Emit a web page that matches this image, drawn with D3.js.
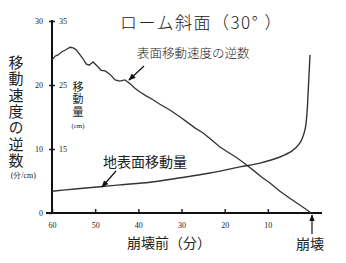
<!DOCTYPE html>
<html>
<head>
<meta charset="utf-8">
<script src="https://cdn.jsdelivr.net/npm/d3@7"></script>
<style>
  body { margin: 0; background: #fff; }
  text { fill: #222; }
</style>
</head>
<body>
<svg id="chart"></svg>
<script>
// DATA
const minutesTicks = [60, 50, 40, 30, 20, 10];
const inverseTicks = [0, 10, 20, 30];
const movementTicks = [15, 25, 35];

// reciprocal of surface velocity (min/cm) vs minutes before collapse
const inverseMinutes = [60, 59.3, 58.6, 57.7, 56.8, 55.8, 55.1, 54.4, 53.5, 52.8, 52.1, 51.4, 50.5, 49.6, 48.6, 47.7, 46.6, 45.4, 44.3, 43.1, 41.9, 40.8, 39.6, 38.2, 36.6, 35.0, 32.7, 30.3, 28.7, 26.9, 25.0, 23.0, 21.1, 19.2, 17.1, 15.3, 13.4, 11.4, 9.5, 7.2, 4.9, 2.6, 1.0, 0];
const inverseValues = [23.9, 24.5, 24.7, 25.2, 25.5, 25.9, 25.8, 25.5, 24.7, 24.1, 23.3, 23.1, 23.6, 23.0, 22.3, 22.2, 21.7, 20.8, 20.6, 20.8, 20.2, 19.5, 18.9, 18.3, 17.7, 17.0, 16.1, 15.0, 14.2, 13.3, 12.5, 11.4, 10.3, 9.5, 8.6, 7.7, 6.7, 5.6, 4.7, 3.4, 2.3, 1.25, 0.5, 0];

// ground surface movement (cm)
const moveMinutes = [60, 54.7, 48.9, 44.2, 37.3, 30.3, 23.4, 16.5, 11.8, 7.2, 4.4, 2.6, 1.4, 0.93, 0.7, 0.46, 0.23];
const moveValues = [8.4, 8.75, 9.1, 9.4, 9.8, 10.5, 11.25, 12.2, 12.8, 13.75, 14.7, 15.9, 18.0, 20.6, 23.4, 26.6, 29.7];

const W = 346, H = 263;
const svg = d3.select("#chart").attr("width", W).attr("height", H);

// SCALES
const x = d3.scaleLinear().domain([60, 0]).range([52, 311]);
const y = d3.scaleLinear().domain([0, 30]).range([213, 21]);
const y2 = d3.scaleLinear().domain([5, 35]).range([213, 21]);

const serif = "'Liberation Serif', 'DejaVu Serif', serif";
const cjk = "'Noto Sans CJK JP', sans-serif";

// AXES
const xAxis = svg.append("g")
  .attr("transform", "translate(0,213)")
  .call(d3.axisBottom(x).tickValues(minutesTicks).tickSizeInner(-4).tickSizeOuter(0).tickPadding(9));
xAxis.select(".domain").remove();
xAxis.selectAll("line").attr("stroke", "#222").attr("stroke-width", 1.5);
xAxis.selectAll("text").style("font-family", serif).style("font-size", "8px").attr("fill", "#444");

svg.append("line")
  .attr("x1", 46).attr("x2", 322).attr("y1", 213).attr("y2", 213)
  .attr("stroke", "#111").attr("stroke-width", 2);

const yAxis = svg.append("g")
  .attr("transform", "translate(52,0)")
  .call(d3.axisLeft(y).tickValues(inverseTicks).tickSize(3).tickPadding(6));
yAxis.select(".domain").remove();
yAxis.selectAll("line").attr("stroke", "#222").attr("stroke-width", 1.5);
yAxis.selectAll("text").style("font-family", serif).style("font-size", "8px").attr("fill", "#444");

const y2Axis = svg.append("g")
  .attr("transform", "translate(52,0)")
  .call(d3.axisRight(y2).tickValues(movementTicks).tickSize(3).tickPadding(4));
y2Axis.select(".domain").remove();
y2Axis.selectAll("line").attr("stroke", "#222").attr("stroke-width", 1.5);
y2Axis.selectAll("text").style("font-family", serif).style("font-size", "8px").attr("fill", "#444");

svg.append("line")
  .attr("x1", 52).attr("x2", 52).attr("y1", 20).attr("y2", 214)
  .attr("stroke", "#111").attr("stroke-width", 2);

// LINES
const inverseData = inverseMinutes.map((m, i) => ({ m: m, v: inverseValues[i] }));
const moveData = moveMinutes.map((m, i) => ({ m: m, v: moveValues[i] }));

svg.append("path")
  .datum(inverseData)
  .attr("fill", "none")
  .attr("stroke", "#333")
  .attr("stroke-width", 1.3)
  .attr("d", d3.line().x(d => x(d.m)).y(d => y(d.v)));

svg.append("path")
  .datum(moveData)
  .attr("fill", "none")
  .attr("stroke", "#333")
  .attr("stroke-width", 1.4)
  .attr("d", d3.line().x(d => x(d.m)).y(d => y2(d.v)).curve(d3.curveCatmullRom));

// ARROWS
svg.append("defs").append("marker")
  .attr("id", "head")
  .attr("viewBox", "0 0 10 10")
  .attr("refX", 9).attr("refY", 5)
  .attr("markerWidth", 6).attr("markerHeight", 6)
  .attr("orient", "auto")
  .append("path").attr("d", "M0,1 L10,5 L0,9 Z").attr("fill", "#111");

function arrow(x1, y1, x2, y2) {
  svg.append("line")
    .attr("x1", x1).attr("y1", y1).attr("x2", x2).attr("y2", y2)
    .attr("stroke", "#111").attr("stroke-width", 1.2)
    .attr("marker-end", "url(#head)");
}
arrow(144, 66, 129, 80);
arrow(116, 171, 102, 187);
arrow(312, 234, 312, 215);

// TEXT
svg.append("text")
  .attr("x", 120).attr("y", 29)
  .style("font-family", cjk).style("font-size", "17px").style("font-weight", 300)
  .style("letter-spacing", "1.5px")
  .text("ローム斜面（30° ）");

svg.append("text")
  .attr("x", 137).attr("y", 58)
  .style("font-family", cjk).style("font-size", "12.5px").style("font-weight", 300)
  .text("表面移動速度の逆数");

svg.append("text")
  .attr("x", 103).attr("y", 167)
  .style("font-family", cjk).style("font-size", "14px")
  .text("地表面移動量");

svg.append("text")
  .attr("x", 127).attr("y", 248)
  .style("font-family", cjk).style("font-size", "14px")
  .text("崩壊前（分）");

svg.append("text")
  .attr("x", 296).attr("y", 249)
  .style("font-family", cjk).style("font-size", "14px")
  .text("崩壊");

// vertical y-axis title
svg.append("text")
  .attr("x", 16).attr("y", 55)
  .style("writing-mode", "vertical-rl")
  .style("font-family", cjk).style("font-size", "15px")
  .style("letter-spacing", "1.3px")
  .text("移動速度の逆数");

svg.append("text")
  .attr("x", 36).attr("y", 178)
  .attr("text-anchor", "end")
  .style("font-family", serif).style("font-size", "8px").attr("fill", "#444")
  .text("(分/cm)");

// vertical movement label
svg.append("text")
  .attr("x", 78).attr("y", 81)
  .style("writing-mode", "vertical-rl")
  .style("font-family", cjk).style("font-size", "11px")
  .style("letter-spacing", "1.5px")
  .text("移動量");

svg.append("text")
  .attr("x", 78).attr("y", 128)
  .attr("text-anchor", "middle")
  .style("font-family", serif).style("font-size", "7px").attr("fill", "#444")
  .text("(cm)");
</script>
</body>
</html>
